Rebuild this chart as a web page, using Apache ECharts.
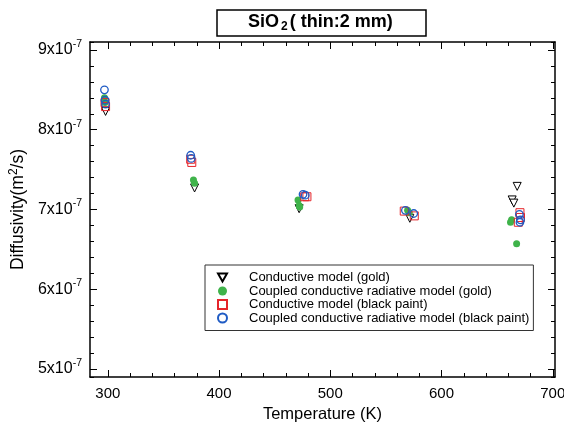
<!DOCTYPE html>
<html><head><meta charset="utf-8">
<script src="https://cdn.jsdelivr.net/npm/echarts@6/dist/echarts.min.js"></script>
<style>html,body{margin:0;padding:0;background:#fff}#c{width:564px;height:430px}</style>
</head><body><div id="c"></div>
<script>
// Values in units of 1e-7 m^2/s
const seriesNames = ['Conductive model (gold)','Coupled conductive radiative model (gold)','Conductive model (black paint)','Coupled conductive radiative model (black paint)'];
const condGoldT = [298, 378, 472, 571.5, 668, 663.5, 665];
const condGoldD = [8.23, 7.27, 7.01, 6.89, 7.29, 7.12, 7.08];
const coupGoldT = [297, 297.5, 377, 378, 471, 472, 472.5, 569.5, 571, 662, 663, 667.5];
const coupGoldD = [8.40, 8.34, 7.37, 7.33, 7.12, 7.05, 7.03, 6.99, 6.96, 6.84, 6.87, 6.57];
const condBlackT = [297.5, 298, 374.5, 375.5, 477, 479, 566.5, 575.5, 669, 670.5, 671];
const condBlackD = [8.34, 8.29, 7.63, 7.59, 7.16, 7.16, 6.98, 6.92, 6.84, 6.96, 6.90];
const coupBlackT = [297, 297.5, 298, 374.5, 375, 475.5, 477.5, 567.5, 575, 670, 670.5, 671];
const coupBlackD = [8.50, 8.37, 8.32, 7.68, 7.64, 7.19, 7.18, 6.99, 6.95, 6.94, 6.84, 6.87];
const xTickLabels = [300, 400, 500, 600, 700];
const yTickLabels = [5, 6, 7, 8, 9];

const zip = (a, b) => a.map((v, i) => [v, b[i]]);
const xMinor = [], yMinor = [];
for (let i = 0; i < xTickLabels.length - 1; i++) for (let k = 1; k < 5; k++) xMinor.push(xTickLabels[i] + k * 20);
for (let i = 0; i < yTickLabels.length - 1; i++) for (let k = 1; k < 5; k++) yMinor.push(+(yTickLabels[i] + k * 0.2).toFixed(2));
yMinor.push(4.9, 9.1);

const FONT = 'Liberation Sans, Arial, sans-serif';
const XMIN = 284, XMAX = 702, YMIN = 4.9, YMAX = 9.1;
const lineStyle = {color: '#000', width: 1.5};

function xAx(pos, ticks, len, show) {
  return {type: 'value', min: XMIN, max: XMAX, position: pos, gridIndex: 0,
    axisLine: {show: show, onZero: false, lineStyle: lineStyle},
    axisTick: {show: true, inside: true, length: len, customValues: ticks, lineStyle: {color: '#000', width: 1}},
    axisLabel: {show: false}, splitLine: {show: false}};
}
function yAx(pos, ticks, len, show) {
  return {type: 'value', min: YMIN, max: YMAX, position: pos, gridIndex: 0,
    axisLine: {show: show, onZero: false, lineStyle: lineStyle},
    axisTick: {show: true, inside: true, length: len, customValues: ticks, lineStyle: {color: '#000', width: 1}},
    axisLabel: {show: false}, splitLine: {show: false}};
}

const xAxes = [
  {type: 'value', min: XMIN, max: XMAX, position: 'bottom',
   name: 'Temperature (K)', nameLocation: 'middle', nameGap: 29,
   nameTextStyle: {fontFamily: FONT, fontSize: 16.5, color: '#000'},
   axisLine: {show: true, onZero: false, lineStyle: lineStyle},
   axisTick: {show: true, inside: true, length: 7, customValues: xTickLabels, lineStyle: {color: '#000', width: 1}},
   axisLabel: {show: true, customValues: xTickLabels, margin: 9, fontFamily: FONT, fontSize: 15, color: '#000'},
   splitLine: {show: false}},
  xAx('bottom', xMinor, 4, false),
  xAx('top', xTickLabels, 7, true),
  xAx('top', xMinor, 4, false)
];
const yAxes = [
  {type: 'value', min: YMIN, max: YMAX, position: 'left',
   name: 'Diffusivity(m{sup|2}/s)', nameLocation: 'middle', nameGap: 61,
   nameTextStyle: {fontFamily: FONT, fontSize: 17.5, color: '#000',
     rich: {sup: {fontFamily: FONT, fontSize: 12, color: '#000', padding: [0, 0, 9, 0]}}},
   axisLine: {show: true, onZero: false, lineStyle: lineStyle},
   axisTick: {show: true, inside: true, length: 7, customValues: yTickLabels, lineStyle: {color: '#000', width: 1}},
   axisLabel: {show: true, customValues: yTickLabels, margin: 8,
     formatter: v => '{b|' + Math.round(v) + 'x10}{s|-7}',
     rich: {b: {fontFamily: FONT, fontSize: 16, color: '#000'},
            s: {fontFamily: FONT, fontSize: 10.5, color: '#000', padding: [0, 0, 12, 0]}}},
   splitLine: {show: false}},
  yAx('left', yMinor, 4, false),
  yAx('right', yTickLabels, 7, true),
  yAx('right', yMinor, 4, false)
];

const triDown = 'path://M0,0 L10,0 L5,9 Z';
const series = [
  {name: seriesNames[0], type: 'scatter', data: zip(condGoldT, condGoldD), symbol: triDown, symbolSize: [8, 8],
   itemStyle: {color: '#fff', borderColor: '#000', borderWidth: 1, opacity: 1}},
  {name: seriesNames[1], type: 'scatter', data: zip(coupGoldT, coupGoldD), symbol: 'circle', symbolSize: 7,
   itemStyle: {color: '#3fb34a', opacity: 1}},
  {name: seriesNames[2], type: 'scatter', data: zip(condBlackT, condBlackD), symbol: 'rect', symbolSize: 8,
   itemStyle: {color: 'rgba(255,255,255,0)', borderColor: '#e5252b', borderWidth: 1, opacity: 1}},
  {name: seriesNames[3], type: 'scatter', data: zip(coupBlackT, coupBlackD), symbol: 'circle', symbolSize: 7.5,
   itemStyle: {color: 'rgba(255,255,255,0)', borderColor: '#1f5bc4', borderWidth: 1.3, opacity: 1}}
];

const chart = echarts.init(document.getElementById('c'), null, {renderer: 'canvas'});
chart.setOption({
  animation: false,
  backgroundColor: '#fff',
  grid: {left: 90, right: 9, top: 42, bottom: 53, containLabel: false, outerBoundsMode: 'none'},
  title: {text: '{a|SiO}{s|2}{a|( thin:2 mm)}', left: 217, top: 8,
    borderColor: '#000', borderWidth: 1.5, padding: [4, 34, 3, 31],
    textStyle: {rich: {a: {fontFamily: FONT, fontSize: 18, fontWeight: 'bold', color: '#000'},
                       s: {fontFamily: FONT, fontSize: 12, fontWeight: 'bold', color: '#000', padding: [9, 2, 0, 2]}}}},
  legend: {orient: 'vertical', left: 205, top: 265, padding: [6, 4, 6, 12], itemGap: 0.5,
    itemWidth: 9, itemHeight: 9, borderColor: '#333', borderWidth: 1,
    textStyle: {fontFamily: FONT, fontSize: 13, lineHeight: 13, color: '#000', padding: [0, 0, 0, 17]},
    data: [
      {name: seriesNames[0], icon: triDown},
      {name: seriesNames[1], icon: 'circle'},
      {name: seriesNames[2], icon: 'rect'},
      {name: seriesNames[3], icon: 'circle'}
    ]},
  xAxis: xAxes,
  yAxis: yAxes,
  series: series
});
</script></body></html>
